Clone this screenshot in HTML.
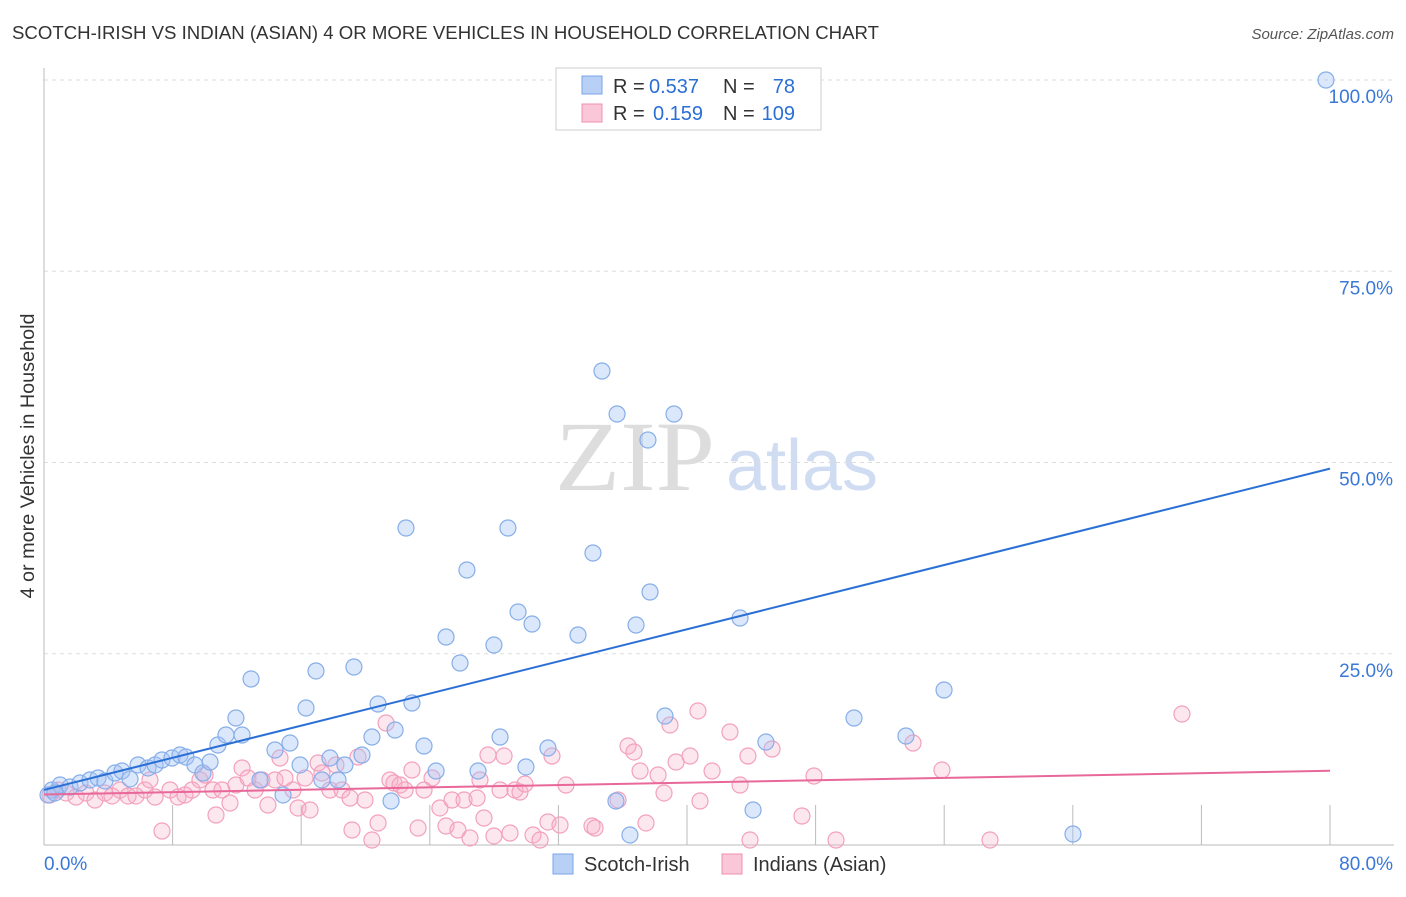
<!DOCTYPE html>
<html><head><meta charset="utf-8"><style>
body{margin:0;background:#fff;font-family:"Liberation Sans",sans-serif}
</style></head><body>
<svg id="c" width="1406" height="892" xmlns="http://www.w3.org/2000/svg">
<text x="12" y="39" font-size="18" fill="#333" textLength="867" lengthAdjust="spacingAndGlyphs">SCOTCH-IRISH VS INDIAN (ASIAN) 4 OR MORE VEHICLES IN HOUSEHOLD CORRELATION CHART</text>
<text x="1394" y="39" font-size="15" fill="#555" font-style="italic" text-anchor="end">Source: ZipAtlas.com</text>
<text x="34" y="456" font-size="19" fill="#333" text-anchor="middle" textLength="285" lengthAdjust="spacingAndGlyphs" transform="rotate(-90 34 456)">4 or more Vehicles in Household</text>
<text x="635" y="490" font-size="100" fill="#ddd" text-anchor="middle" font-family="Liberation Serif,serif" textLength="160" lengthAdjust="spacingAndGlyphs">ZIP</text>
<text x="802" y="490" font-size="72" fill="#cfdcf2" text-anchor="middle">atlas</text>
<g id="grid"></g><g id="pts"></g><g id="lines"></g>
<g>
<rect x="556" y="68" width="265" height="62" fill="#fff" stroke="#ccc"/>
<rect x="582" y="76" width="20" height="18" fill="#b8d0f5" stroke="#7aa6e8"/>
<rect x="582" y="104" width="20" height="18" fill="#f9c7d7" stroke="#f08fb0"/>
<text x="613" y="93" font-size="20" fill="#333">R =</text>
<text x="649" y="93" font-size="20" fill="#2a6fd6">0.537</text>
<text x="723" y="93" font-size="20" fill="#333">N =</text>
<text x="795" y="93" font-size="20" fill="#2a6fd6" text-anchor="end">78</text>
<text x="613" y="120" font-size="20" fill="#333">R =</text>
<text x="653" y="120" font-size="20" fill="#2a6fd6">0.159</text>
<text x="723" y="120" font-size="20" fill="#333">N =</text>
<text x="795" y="120" font-size="20" fill="#2a6fd6" text-anchor="end">109</text>
</g>
<g>
<rect x="553" y="854" width="20" height="20" fill="#b8d0f5" stroke="#7aa6e8"/>
<text x="584" y="871" font-size="20" fill="#333">Scotch-Irish</text>
<rect x="722" y="854" width="20" height="20" fill="#f9c7d7" stroke="#f08fb0"/>
<text x="753" y="871" font-size="20" fill="#333">Indians (Asian)</text>
</g>
</svg>
<script>
const yTicks=[25,50,75,100];
const xTickLabels=["0.0%","80.0%"];
const bluePx=[[52,790],[60,785],[70,787],[80,783],[90,780],[98,778],[105,781],[115,773],[122,771],[130,779],[138,765],[148,768],[155,765],[162,760],[172,758],[180,755],[186,757],[195,765],[203,773],[210,762],[218,745],[226,735],[236,718],[242,735],[251,679],[260,780],[275,750],[283,795],[290,743],[300,765],[306,708],[316,671],[322,780],[330,758],[338,780],[345,765],[354,667],[362,755],[372,737],[378,704],[391,801],[395,730],[406,528],[412,703],[424,746],[436,771],[446,637],[460,663],[467,570],[478,771],[494,645],[500,737],[508,528],[518,612],[526,767],[532,624],[548,748],[578,635],[593,553],[602,371],[617,414],[616,801],[630,835],[648,440],[650,592],[674,414],[636,625],[665,716],[740,618],[753,810],[766,742],[854,718],[906,736],[944,690],[1073,834],[1326,80],[48,795],[55,793]];
const pinkPx=[[50,795],[58,790],[66,793],[76,797],[86,793],[95,800],[105,793],[112,796],[120,790],[128,796],[136,796],[145,790],[150,780],[155,797],[162,831],[170,790],[178,797],[185,795],[192,790],[200,780],[205,775],[213,790],[216,815],[222,790],[230,803],[236,785],[242,768],[248,778],[255,790],[262,780],[268,805],[275,780],[280,758],[285,778],[293,790],[298,808],[305,778],[310,810],[318,763],[322,773],[330,790],[336,765],[342,790],[350,798],[352,830],[358,757],[365,800],[372,840],[378,823],[386,723],[390,780],[394,783],[400,785],[405,790],[412,770],[418,828],[424,790],[432,778],[440,808],[446,826],[452,800],[458,830],[464,800],[470,838],[477,798],[480,780],[484,818],[488,755],[494,836],[500,790],[504,756],[510,833],[515,790],[520,792],[525,784],[533,835],[540,840],[548,822],[552,756],[560,825],[566,785],[592,826],[595,828],[618,800],[628,746],[634,752],[640,771],[646,823],[658,775],[664,793],[670,725],[676,762],[690,756],[698,711],[700,801],[712,771],[730,732],[740,785],[748,756],[750,840],[772,749],[802,816],[814,776],[836,840],[913,743],[942,770],[990,840],[1182,714]];
const blueX=bluePx.map(p=>+((p[0]-44)/16.075).toFixed(2)), blueY=bluePx.map(p=>+((845-p[1])/7.65).toFixed(2));
const pinkX=pinkPx.map(p=>+((p[0]-44)/16.075).toFixed(2)), pinkY=pinkPx.map(p=>+((845-p[1])/7.65).toFixed(2));
const blueTrend=[7.2,49.2], pinkTrend=[6.6,9.7];
const X=v=>44+v*16.075, Y=v=>845-v*7.65;
const NS="http://www.w3.org/2000/svg";
function mk(t,a,p){const e=document.createElementNS(NS,t);for(const k in a)e.setAttribute(k,a[k]);p.appendChild(e);return e;}
const g=document.getElementById('grid');
yTicks.forEach(t=>{
 const l=mk('line',{x1:44,x2:1394,y1:Y(t),y2:Y(t),stroke:'#ddd','stroke-dasharray':'4,4'},g);
 
 
 const tx=mk('text',{x:1393,y:Y(t)+23,'font-size':19,fill:'#3a78d8','text-anchor':'end'},g);tx.textContent=t.toFixed(1)+'%';
 
 
});
const ax=mk('line',{x1:44,x2:44,y1:68,y2:845,stroke:'#bbb'},g);


const bx=mk('line',{x1:44,x2:1394,y1:845,y2:845,stroke:'#bbb'},g);


for(let i=1;i<=10;i++){const l=mk('line',{x1:X(i*8),x2:X(i*8),y1:805,y2:845,stroke:'#bbb'},g);
 
 }
[[0,44,'start'],[80,1393,'end']].forEach((d,i)=>{const t=mk('text',{x:d[1],y:870,'font-size':19,fill:'#3a78d8','text-anchor':d[2]},g);t.textContent=xTickLabels[i];
 
 });
const pg=document.getElementById('pts');
pinkX.forEach((x,i)=>{const c=mk('circle',{cx:X(x),cy:Y(pinkY[i]),r:8,fill:'rgba(248,176,200,0.3)',stroke:'#f3a0bd','stroke-width':1.2},pg);
 
 });
blueX.forEach((x,i)=>{const c=mk('circle',{cx:X(x),cy:Y(blueY[i]),r:8,fill:'rgba(164,194,244,0.4)',stroke:'#86aee9','stroke-width':1.2},pg);
 
 });
const lg=document.getElementById('lines');
const b=mk('line',{x1:X(0),y1:Y(blueTrend[0]),x2:X(80),y2:Y(blueTrend[1]),stroke:'#2a6fd6','stroke-width':2},lg);


const p=mk('line',{x1:X(0),y1:Y(pinkTrend[0]),x2:X(80),y2:Y(pinkTrend[1]),stroke:'#e8689a','stroke-width':2},lg);


</script>
</body></html>
